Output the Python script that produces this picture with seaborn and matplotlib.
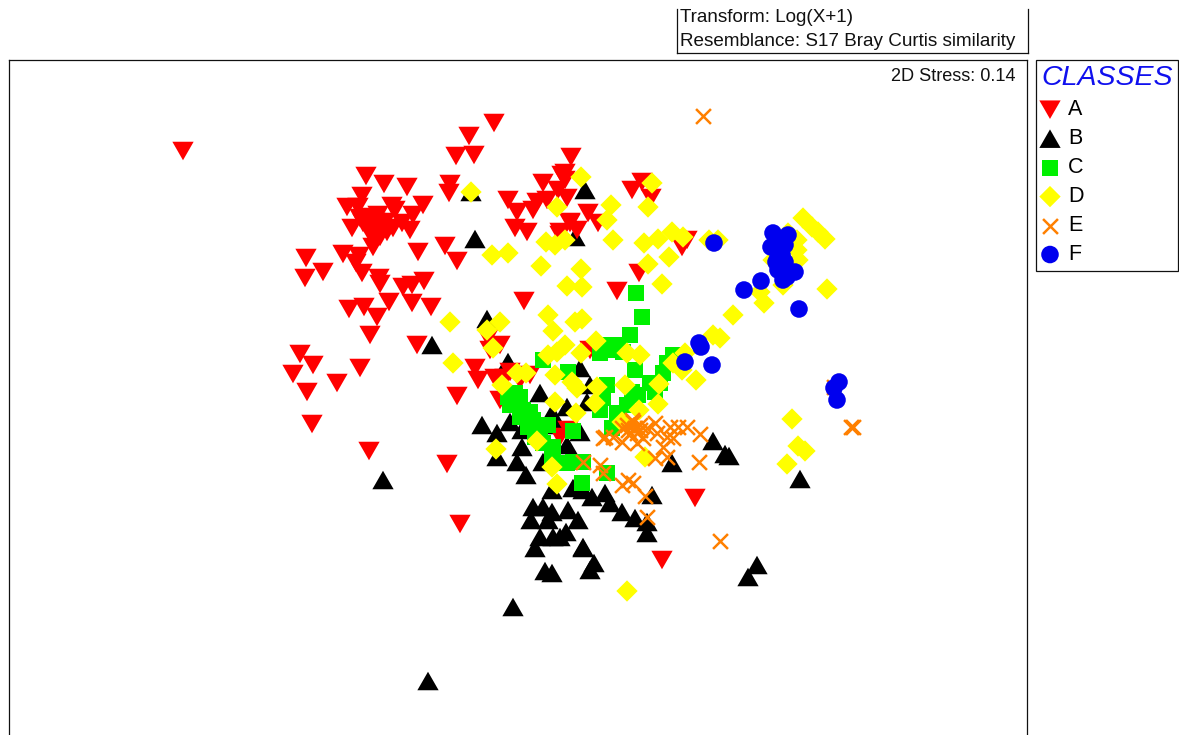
import matplotlib
matplotlib.use("Agg")
import matplotlib.pyplot as plt
import pandas as pd
import seaborn as sns

# Ordination scores (the chart has no numeric axes)
a_x = [494,469,456,474,571,450,449,366,384,407,362,347,358,392,423,395,368,378,413,363,352,370,380,393,402,410,380,373,387,
       418,343,359,356,362,306,323,305,379,380,424,412,403,389,412,431,349,364,377,370,445,457,524,508,517,515,527,543,562,
       558,565,537,533,547,567,570,560,632,642,651,588,598,570,577,560,687,682,639,617,183,417,360,300,313,293,307,337,312,
       369,447,460,695,662,457,488,500,490,475,478,505,510,495,520,500,560,568,530,590,565,375,385,372,360]
a_y = [123,136,156,155,157,184,193,176,184,187,196,207,207,206,205,210,217,215,215,223,228,228,227,228,223,230,237,247,232,
       252,254,256,263,273,258,272,278,278,284,281,285,287,302,303,307,309,307,317,335,246,261,301,200,212,228,232,183,175,
       190,180,202,210,200,198,222,232,190,182,198,213,223,223,230,235,240,247,273,291,151,345,368,354,365,374,392,383,424,
       451,464,524,498,560,396,338,345,350,368,380,378,372,378,380,400,437,430,375,350,173,222,222,237,218]
b_x = [585,475,432,487,383,428,513,545,552,583,594,590,748,757,800,713,725,729,672,647,508,580,540,482,497,510,522,522,517,
       526,497,567,552,558,580,567,543,552,573,592,583,605,610,622,635,647,652,533,543,552,568,578,531,548,540,553,566,560,
       535,583,590,587,471,575]
b_y = [190,239,345,319,480,681,607,571,573,548,563,570,577,565,479,441,454,456,463,533,362,368,393,425,433,422,430,447,462,
       475,457,407,413,425,432,445,462,490,488,497,490,493,503,512,518,522,495,507,507,512,510,520,520,520,537,537,532,537,
       548,547,385,402,192,237]
c_x = [636,642,630,612,600,623,603,617,635,607,603,617,627,638,650,660,663,667,673,612,543,568,573,582,607,583,567,508,515,
       520,510,523,520,533,528,540,543,553,552,560,573,515,530,535,548,608,618,632,655,600]
c_y = [293,317,335,347,353,352,350,350,370,385,398,413,405,395,383,383,373,363,355,428,360,372,431,483,473,462,463,397,393,
       397,405,410,417,420,427,430,443,447,457,463,462,405,412,437,425,345,345,392,392,410]
d_x = [450,500,487,493,453,502,517,526,548,553,575,582,596,581,565,557,548,555,572,577,555,576,597,595,625,627,640,659,658,
       639,622,645,537,496,552,557,696,673,685,713,720,733,682,581,652,648,611,607,557,672,683,709,718,658,644,613,546,555,
       565,669,648,662,581,567,582,541,827,803,812,825,818,764,760,783,788,797,798,797,773,471,492,508,792,798,805,787,627]
d_y = [322,322,330,348,363,385,373,373,315,331,322,319,341,353,345,352,355,375,382,388,402,413,387,403,385,353,355,384,404,
       410,422,457,441,449,467,484,380,363,353,335,338,315,370,177,183,207,205,220,207,232,237,240,240,239,243,240,242,245,
       240,257,264,284,269,286,287,266,289,218,227,239,232,303,292,285,233,250,260,240,260,192,255,253,419,446,451,464,591]
e_x = [703,851,853,834,720,647,645,633,628,622,603,600,583,700,699,687,678,670,673,663,667,655,655,647,640,633,627,622,630,
       637,643,637,622,613,605,603,657,667,635,628,640,632]
e_y = [116,427,427,387,541,517,496,483,480,485,473,465,462,434,462,427,427,427,438,447,457,458,423,428,425,422,425,428,433,
       433,438,443,442,437,437,438,433,437,428,430,430,420]
f_x = [714,839,834,837,685,699,701,712,744,761,799,773,788,771,780,785,778,785,795,780,778,775,782,780,785,783,787,776]
f_y = [243,382,388,400,362,343,347,365,290,281,309,233,235,247,250,262,270,275,272,240,258,245,255,268,245,280,277,262]

class_names = ["A", "B", "C", "D", "E", "F"]
note_lines = ["Transform: Log(X+1)", "Resemblance: S17 Bray Curtis similarity"]
stress_label = "2D Stress: 0.14"
legend_title = "CLASSES"

frames = []
for name, xs, ys in zip(class_names, [a_x, b_x, c_x, d_x, e_x, f_x], [a_y, b_y, c_y, d_y, e_y, f_y]):
    frames.append(pd.DataFrame({"x": xs, "y": ys, "cls": name}))
data = pd.concat(frames, ignore_index=True)

sns.set_theme(style="white")
plt.rcParams["font.family"] = ["Liberation Sans", "DejaVu Sans"]

W, H = 1179, 735
fig = plt.figure(figsize=(W / 100, H / 100), dpi=100, facecolor="white")
ax = fig.add_axes([9 / W, 0, (1027 - 9) / W, (H - 60) / H])

tri = [(-1, 0.87), (1, 0.87), (0, -0.87), (-1, 0.87)]
tri_up = [(-1, -0.87), (1, -0.87), (0, 0.87), (-1, -0.87)]
styles = {
    "A": dict(color="#ff0000", marker=tri, s=235),
    "B": dict(color="#000000", marker=tri_up, s=235),
    "C": dict(color="#00f000", marker="s", s=135),
    "D": dict(color="#ffff00", marker="D", s=118),
    "E": dict(color="#ff8000", marker="x", s=115, linewidth=1.8),
    "F": dict(color="#0000ee", marker="o", s=160),
}
for name in ["B", "A", "C", "D", "E", "F"]:
    st = dict(styles[name])
    kw = {} if name == "E" else {"edgecolor": "none"}
    sns.scatterplot(data=data[data.cls == name], x="x", y="y", ax=ax, label=name, legend=False,
                    clip_on=True, **kw, **st)

ax.set_xlim(9, 1027)
ax.set_ylim(735, 60)
ax.set_xticks([])
ax.set_yticks([])
ax.set_xlabel("")
ax.set_ylabel("")
ax.spines["bottom"].set_visible(False)
for s in ["left", "right", "top"]:
    ax.spines[s].set_visible(True)
    ax.spines[s].set_linewidth(0.9)
    ax.spines[s].set_color("#111111")

ax.text(1016, 76, stress_label, ha="right", va="center", fontsize=13.1, color="#111111")

# Legend, built from the plotted collections
handles, labels = ax.get_legend_handles_labels()
order = sorted(range(len(labels)), key=lambda i: labels[i])
leg = ax.legend([handles[i] for i in order], [labels[i] for i in order],
                title=legend_title, loc="upper left", bbox_to_anchor=(1036 / W, 1 - 60 / H),
                bbox_transform=fig.transFigure, borderaxespad=0, fontsize=15.5, alignment="left",
                labelspacing=0.37, handletextpad=0.45, handlelength=0.8, borderpad=0.25,
                fancybox=False, framealpha=1, edgecolor="#111111", title_fontproperties={"size": 20.5, "style": "italic"})
leg.get_title().set_color("#1010ee")
leg.get_frame().set_linewidth(0.9)
for t in leg.get_texts():
    t.set_color("#000000")

# Transform note box, cut by the top of the picture area
nb = fig.add_axes([677 / W, 1 - 53 / H, (1028 - 677) / W, (53 - 9) / H])
nb.set_xticks([])
nb.set_yticks([])
nb.patch.set_alpha(0)
nb.spines["top"].set_visible(False)
for s in ["left", "right", "bottom"]:
    nb.spines[s].set_linewidth(0.9)
    nb.spines[s].set_color("#111111")
fig.text(680 / W, 1 - 18 / H, note_lines[0], ha="left", va="center", fontsize=13.55, color="#111111")
fig.text(680 / W, 1 - 42 / H, note_lines[1], ha="left", va="center", fontsize=13.55, color="#111111")

fig.savefig("out.png", dpi=100, facecolor="white")
